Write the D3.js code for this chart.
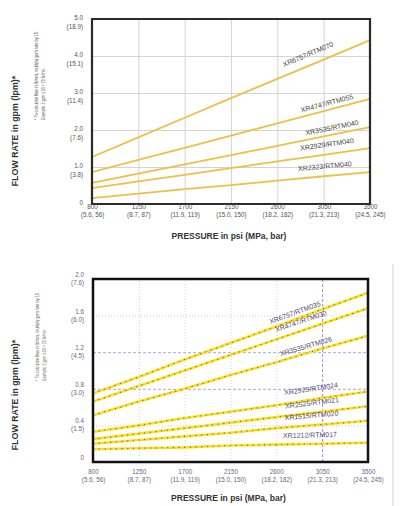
<!DOCTYPE html>
<html>
<head>
<meta charset="utf-8">
<script src="https://cdn.jsdelivr.net/npm/d3@7"></script>
<style>
  body { margin: 0; background: #fff; }
  svg text { font-family: "Liberation Sans", Arial, sans-serif; }
</style>
</head>
<body>
<div id="chart"></div>
<script>
// Shared x axis: pressure in psi, and metric values in brackets
var pressures = [800, 1250, 1700, 2150, 2600, 3050, 3500];
var pressureMetric = ["(5.6, 56)", "(8.7, 87)", "(11.9, 119)", "(15.0, 150)", "(18.2, 182)", "(21.3, 213)", "(24.5, 245)"];

// Top chart (gpm read at each pressure tick)
var topTicks = [0, 1, 2, 3, 4, 5];
var topTickLabels = ["0", "1.0", "2.0", "3.0", "4.0", "5.0"];
var topTickLpm = ["", "(3.8)", "(7.6)", "(11.4)", "(15.1)", "(18.9)"];
var topNames = ["XR6757/RTM070", "XR4747/RTM055", "XR3535/RTM040", "XR2929/RTM040", "XR2323/RTM040"];
var topFlow = [
  [1.27, 1.80, 2.33, 2.86, 3.38, 3.90, 4.43],
  [0.86, 1.19, 1.52, 1.85, 2.18, 2.51, 2.84],
  [0.57, 0.82, 1.07, 1.32, 1.57, 1.83, 2.08],
  [0.43, 0.61, 0.79, 0.97, 1.15, 1.33, 1.51],
  [0.16, 0.28, 0.40, 0.51, 0.63, 0.75, 0.86]
];

// Bottom chart
var botTicks = [0, 0.4, 0.8, 1.2, 1.6, 2.0];
var botTickLabels = ["0", "0.4", "0.8", "1.2", "1.6", "2.0"];
var botTickLpm = ["", "(1.5)", "(3.0)", "(4.5)", "(6.0)", "(7.6)"];
var botNames = ["XR6757/RTM035", "XR4747/RTM030", "XR3535/RTM026", "XR2929/RTM024", "XR2525/RTM021", "XR1515/RTM020", "XR1212/RTM017"];
var botFlow = [
  [0.75, 0.93, 1.12, 1.30, 1.48, 1.67, 1.85],
  [0.66, 0.83, 1.00, 1.17, 1.34, 1.51, 1.68],
  [0.51, 0.66, 0.80, 0.95, 1.09, 1.24, 1.38],
  [0.33, 0.40, 0.48, 0.55, 0.62, 0.70, 0.77],
  [0.25, 0.31, 0.37, 0.43, 0.49, 0.55, 0.61],
  [0.20, 0.24, 0.28, 0.32, 0.37, 0.41, 0.45],
  [0.14, 0.15, 0.16, 0.18, 0.19, 0.20, 0.21]
];

var svg = d3.select("#chart").append("svg")
  .attr("width", 403)
  .attr("height", 506);

// thin rule at the right of the lower scan
svg.append("line")
  .attr("x1", 393).attr("x2", 393)
  .attr("y1", 264).attr("y2", 506)
  .attr("stroke", "#cfcfcf");

drawChart({
  left: 92, right: 370, top: 19, bottom: 204, yMax: 5,
  ticks: topTicks, tickLabels: topTickLabels, tickLpm: topTickLpm,
  names: topNames, flow: topFlow,
  labelAt: [2898, 3082, 3131, 3082, 3062],
  labelLift: [12, 7, 7, 10, 10],
  xLab1: 5, xLab2: 13, yLab1: 0, yLab2: 9,
  titleY: 131, noteY: 120, titleX: 15, noteX: [36, 43],
  xTitleY: 239,
  textColor: "#555", titleColor: "#333", seriesColor: "#444", noteColor: "#555",
  border: "#2a2a2a", borderWidth: 2.2,
  grid: function(sel) { sel.attr("stroke", "#d4d4d4").attr("stroke-width", 1); },
  dotted: false
});

drawChart({
  left: 93, right: 368, top: 279, bottom: 462, yMax: 2,
  ticks: botTicks, tickLabels: botTickLabels, tickLpm: botTickLpm,
  names: botNames, flow: botFlow,
  labelAt: [2783, 2842, 2891, 2940, 2950, 2945, 2930],
  labelLift: [7, 10, 7, 11, 10, 10, 9],
  xLab1: 12, xLab2: 20, yLab1: -2.5, yLab2: 5.5,
  titleY: 395, noteY: 381, titleX: 15, noteX: [37, 44],
  xTitleY: 501,
  textColor: "#6e6488", titleColor: "#333", seriesColor: "#54467a", noteColor: "#5f6a5a",
  border: "#111", borderWidth: 2.5,
  grid: function(sel, axis) {
    sel.attr("stroke", function(d) {
        if (axis == "x" && d == 3050) return "#8f8fd6";
        if (axis == "x" && d == 1700) return "#e6dca0";
        if (axis == "y" && (d == 0.8 || d == 1.2)) return "#a9a9e4";
        return "#cdcde6";
      })
      .attr("stroke-width", 1)
      .attr("stroke-dasharray", function(d) {
        return (axis == "x" && d == 3050) || (axis == "y" && (d == 0.8 || d == 1.2)) ? "3,2" : "1,2";
      });
  },
  dotted: true
});

// force style and layout on the frames before the page is photographed
var frameInfo = [];
svg.selectAll(".frame").each(function() {
  var b = this.getBBox();
  frameInfo.push(b.width + getComputedStyle(this).stroke);
});
svg.append("text").attr("x", 5).attr("y", 252).attr("font-size", 8).attr("fill", "#fff").text(frameInfo.length ? " " : "");

function drawChart(cfg) {
  var width = cfg.right - cfg.left;
  var height = cfg.bottom - cfg.top;

  var x = d3.scaleLinear().domain([800, 3500]).range([cfg.left, cfg.right]);
  var y = d3.scaleLinear().domain([0, cfg.yMax]).range([cfg.bottom, cfg.top]);

  var g = svg.append("g");

  // gridlines
  var gx = g.append("g")
    .attr("transform", `translate(0, ${cfg.bottom})`)
    .call(d3.axisBottom(x).tickValues(pressures.slice(1, -1)).tickSize(-height).tickFormat(""));
  gx.select(".domain").remove();
  gx.selectAll(".tick line").call(cfg.grid, "x");

  var gy = g.append("g")
    .attr("transform", `translate(${cfg.left}, 0)`)
    .call(d3.axisLeft(y).tickValues(cfg.ticks.slice(1, -1)).tickSize(-width).tickFormat(""));
  gy.select(".domain").remove();
  gy.selectAll(".tick line").call(cfg.grid, "y");

  // flow lines
  var line = d3.line()
    .x((d, i) => x(pressures[i]))
    .y(d => y(d));

  g.selectAll(".flow")
    .data(cfg.flow)
    .enter()
    .append("path")
    .attr("class", "flow")
    .attr("d", line)
    .attr("fill", "none")
    .attr("stroke", cfg.dotted ? "#f7e11c" : "#f0bf45")
    .attr("stroke-width", cfg.dotted ? 2.6 : 1.8);

  if (cfg.dotted) {
    g.selectAll(".flowdots")
      .data(cfg.flow)
      .enter()
      .append("path")
      .attr("class", "flowdots")
      .attr("d", line)
      .attr("fill", "none")
      .attr("stroke", "#9a5a32")
      .attr("stroke-width", 1.1)
      .attr("stroke-dasharray", "1.2,4.5");
  }

  // series labels, tilted along their line
  cfg.names.forEach(function(name, i) {
    var vals = cfg.flow[i];
    var at = d3.scaleLinear().domain(pressures).range(vals);
    var p = cfg.labelAt[i];
    var px = x(p);
    var py = y(at(p)) - cfg.labelLift[i];
    var ang = Math.atan2(y(vals[vals.length - 1]) - y(vals[0]), x(3500) - x(800)) * 180 / Math.PI;
    g.append("text")
      .attr("transform", `translate(${px}, ${py}) rotate(${ang})`)
      .attr("text-anchor", "middle")
      .attr("dy", "0.35em")
      .attr("font-size", 7)
      .attr("fill", cfg.seriesColor)
      .text(name);
  });

  // frame
  g.append("path")
    .attr("class", "frame")
    .attr("d", `M${cfg.left},${cfg.top}H${cfg.right}V${cfg.bottom}H${cfg.left}Z`)
    .attr("fill", "none")
    .attr("stroke", cfg.border)
    .attr("stroke-width", cfg.borderWidth);

  // x tick labels: psi with (MPa, bar) below
  var ax = g.append("g")
    .attr("transform", `translate(0, ${cfg.bottom})`)
    .call(d3.axisBottom(x).tickValues(pressures).tickSize(0).tickFormat((d, i) => ""));
  ax.select(".domain").remove();
  ax.selectAll(".tick text").each(function(d, i) {
    var t = d3.select(this).attr("y", 0).attr("dy", null)
      .attr("font-size", 6.3).attr("fill", cfg.textColor)
      .style("font-family", "'Liberation Sans', Arial, sans-serif");
    t.append("tspan").attr("x", 0).attr("y", cfg.xLab1).text(d);
    t.append("tspan").attr("x", 0).attr("y", cfg.xLab2).text(pressureMetric[i]);
  });

  // y tick labels: gpm with (lpm) below
  var ay = g.append("g")
    .attr("transform", `translate(${cfg.left}, 0)`)
    .call(d3.axisLeft(y).tickValues(cfg.ticks).tickSize(0).tickFormat(d => ""));
  ay.select(".domain").remove();
  ay.selectAll(".tick text").each(function(d, i) {
    var t = d3.select(this).attr("dy", null)
      .attr("font-size", 6.3).attr("fill", cfg.textColor).attr("text-anchor", "end")
      .style("font-family", "'Liberation Sans', Arial, sans-serif");
    t.append("tspan").attr("x", -9).attr("y", cfg.yLab1).text(cfg.tickLabels[i]);
    if (cfg.tickLpm[i]) {
      t.append("tspan").attr("x", -9).attr("y", cfg.yLab2).text(cfg.tickLpm[i]);
    }
  });

  // axis titles
  g.append("text")
    .attr("transform", `translate(${cfg.titleX}, ${cfg.titleY}) rotate(-90)`)
    .attr("text-anchor", "middle")
    .attr("dy", "0.35em")
    .attr("font-size", 8.8)
    .attr("font-weight", "bold")
    .attr("fill", cfg.titleColor)
    .text("FLOW RATE in gpm (lpm)*");

  // footnote, two rotated lines
  g.append("text")
    .attr("transform", `translate(${cfg.noteX[0]}, ${cfg.noteY}) rotate(-90)`)
    .attr("dy", "0.35em")
    .attr("font-size", 5.2)
    .attr("fill", cfg.noteColor)
    .attr("textLength", 89)
    .attr("lengthAdjust", "spacingAndGlyphs")
    .text("* To calculate flow in lb/min, multiply gpm rate by 10.");

  g.append("text")
    .attr("transform", `translate(${cfg.noteX[1]}, ${cfg.noteY}) rotate(-90)`)
    .attr("dy", "0.35em")
    .attr("font-size", 5.2)
    .attr("fill", cfg.noteColor)
    .attr("textLength", 52)
    .attr("lengthAdjust", "spacingAndGlyphs")
    .text("Example: 2 gpm x 10 = 20 lb/min.");

  g.append("text")
    .attr("x", (cfg.left + cfg.right) / 2 - 2)
    .attr("y", cfg.xTitleY)
    .attr("text-anchor", "middle")
    .attr("font-size", 8.5)
    .attr("font-weight", "bold")
    .attr("fill", cfg.titleColor)
    .text("PRESSURE in psi (MPa, bar)");
}
</script>
</body>
</html>
